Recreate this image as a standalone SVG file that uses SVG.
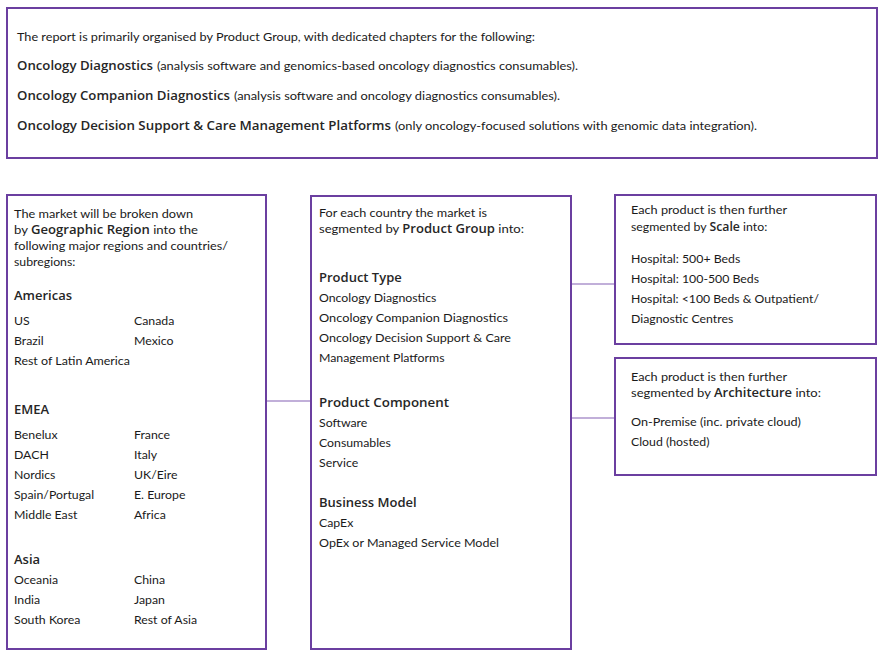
<svg xmlns="http://www.w3.org/2000/svg" width="884" height="660" viewBox="0 0 884 660">
<style>
.box{fill:#fff;stroke:#6b3fa0;stroke-width:2}
.con{stroke:#8460b4;stroke-width:1.2;fill:none}
text{font-family:Lato,"Open Sans","Liberation Sans",sans-serif;font-size:12.3px;fill:#1a1a1a}
.h{font-family:"Open Sans",Lato,"Liberation Sans",sans-serif;font-size:13px;font-weight:600;fill:#262626}
.b{font-family:"Open Sans",Lato,"Liberation Sans",sans-serif;font-weight:600;font-size:12.3px;fill:#262626}
</style>
<rect width="884" height="660" fill="#fff"/>
<g id="connectors">
<line class="con" x1="266" y1="401" x2="311" y2="401"/>
<line class="con" x1="571" y1="284" x2="615" y2="284"/>
<line class="con" x1="571" y1="418" x2="615" y2="418"/>
</g>
<g id="node-top">
<rect class="box" x="7" y="8" width="870" height="150"/>
<text x="17" y="41" textLength="518" lengthAdjust="spacingAndGlyphs">The report is primarily organised by Product Group, with dedicated chapters for the following:</text>
<text class="h" x="17" y="70" textLength="136" lengthAdjust="spacingAndGlyphs">Oncology Diagnostics</text>
<text x="157" y="70" textLength="421" lengthAdjust="spacingAndGlyphs">(analysis software and genomics-based oncology diagnostics consumables).</text>
<text class="h" x="17" y="100" textLength="213" lengthAdjust="spacingAndGlyphs">Oncology Companion Diagnostics</text>
<text x="234" y="100" textLength="326" lengthAdjust="spacingAndGlyphs">(analysis software and oncology diagnostics consumables).</text>
<text class="h" x="17" y="130" textLength="374" lengthAdjust="spacingAndGlyphs">Oncology Decision Support &amp; Care Management Platforms</text>
<text x="395" y="130" textLength="362" lengthAdjust="spacingAndGlyphs">(only oncology-focused solutions with genomic data integration).</text>
</g>
<g id="node-geography">
<rect class="box" x="7" y="195" width="259" height="454"/>
<text x="14" y="218" textLength="179" lengthAdjust="spacingAndGlyphs">The market will be broken down</text>
<text x="14" y="234" textLength="184" lengthAdjust="spacingAndGlyphs">by <tspan class="b">Geographic Region</tspan> into the</text>
<text x="14" y="250" textLength="214" lengthAdjust="spacingAndGlyphs">following major regions and countries/</text>
<text x="14" y="266">subregions:</text>
<text class="h" x="14" y="300">Americas</text>
<text x="14" y="325">US</text><text x="134" y="325">Canada</text>
<text x="14" y="345">Brazil</text><text x="134" y="345">Mexico</text>
<text x="14" y="365" textLength="116" lengthAdjust="spacingAndGlyphs">Rest of Latin America</text>
<text class="h" x="14" y="414">EMEA</text>
<text x="14" y="439">Benelux</text><text x="134" y="439">France</text>
<text x="14" y="459">DACH</text><text x="134" y="459">Italy</text>
<text x="14" y="479">Nordics</text><text x="134" y="479">UK/Eire</text>
<text x="14" y="499">Spain/Portugal</text><text x="134" y="499">E. Europe</text>
<text x="14" y="519">Middle East</text><text x="134" y="519">Africa</text>
<text class="h" x="14" y="564">Asia</text>
<text x="14" y="584">Oceania</text><text x="134" y="584">China</text>
<text x="14" y="604">India</text><text x="134" y="604">Japan</text>
<text x="14" y="624">South Korea</text><text x="134" y="624">Rest of Asia</text>
</g>
<g id="node-product">
<rect class="box" x="311" y="196" width="260" height="453"/>
<text x="319" y="217" textLength="168" lengthAdjust="spacingAndGlyphs">For each country the market is</text>
<text x="319" y="233" textLength="205" lengthAdjust="spacingAndGlyphs">segmented by <tspan class="b">Product Group</tspan> into:</text>
<text class="h" x="319" y="282">Product Type</text>
<text x="319" y="302">Oncology Diagnostics</text>
<text x="319" y="322" textLength="189" lengthAdjust="spacingAndGlyphs">Oncology Companion Diagnostics</text>
<text x="319" y="342" textLength="192" lengthAdjust="spacingAndGlyphs">Oncology Decision Support &amp; Care</text>
<text x="319" y="362">Management Platforms</text>
<text class="h" x="319" y="407" textLength="130" lengthAdjust="spacingAndGlyphs">Product Component</text>
<text x="319" y="427">Software</text>
<text x="319" y="447">Consumables</text>
<text x="319" y="467">Service</text>
<text class="h" x="319" y="507">Business Model</text>
<text x="319" y="527">CapEx</text>
<text x="319" y="547" textLength="180" lengthAdjust="spacingAndGlyphs">OpEx or Managed Service Model</text>
</g>
<g id="node-scale">
<rect class="box" x="615" y="195" width="261" height="149"/>
<text x="631" y="214" textLength="156" lengthAdjust="spacingAndGlyphs">Each product is then further</text>
<text x="631" y="231">segmented by <tspan class="b">Scale</tspan> into:</text>
<text x="631" y="263">Hospital: 500+ Beds</text>
<text x="631" y="283">Hospital: 100-500 Beds</text>
<text x="631" y="303" textLength="188" lengthAdjust="spacingAndGlyphs">Hospital: &lt;100 Beds &amp; Outpatient/</text>
<text x="631" y="323">Diagnostic Centres</text>
</g>
<g id="node-architecture">
<rect class="box" x="615" y="358" width="261" height="117"/>
<text x="631" y="381" textLength="156" lengthAdjust="spacingAndGlyphs">Each product is then further</text>
<text x="631" y="397" textLength="190" lengthAdjust="spacingAndGlyphs">segmented by <tspan class="b">Architecture</tspan> into:</text>
<text x="631" y="426" textLength="170" lengthAdjust="spacingAndGlyphs">On-Premise (inc. private cloud)</text>
<text x="631" y="446">Cloud (hosted)</text>
</g>
</svg>
